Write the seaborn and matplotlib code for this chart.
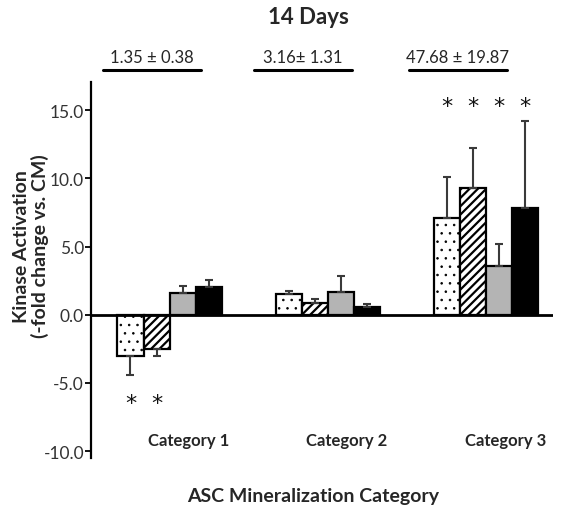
import numpy as np
import pandas as pd
import matplotlib
matplotlib.use("Agg")
import matplotlib.pyplot as plt
import seaborn as sns

# -----------------------------
# DATA
# -----------------------------
categories = ["Category 1", "Category 2", "Category 3"]
series = ["S1", "S2", "S3", "S4"]
values = {
    "S1": [-3.0, 1.55, 7.1],
    "S2": [-2.5, 0.85, 9.3],
    "S3": [1.6, 1.68, 3.6],
    "S4": [2.05, 0.57, 7.85],
}
errors = {
    "S1": [1.45, 0.22, 3.0],
    "S2": [0.55, 0.32, 2.95],
    "S3": [0.48, 1.15, 1.62],
    "S4": [0.5, 0.2, 6.35],
}
group_stats = ["1.35 \u00b1 0.38", "3.16\u00b1 1.31", "47.68 \u00b1 19.87"]
# (category index, series index) pairs marked significant
signif = [(0, 0), (0, 1), (2, 0), (2, 1), (2, 2), (2, 3)]

# -----------------------------
# STYLE
# -----------------------------
sns.set_theme(style="white")
plt.rcParams["font.family"] = ["Lato", "DejaVu Sans"]
plt.rcParams["hatch.linewidth"] = 1.6

df = pd.DataFrame(
    [(c, s, values[s][i]) for s in series for i, c in enumerate(categories)],
    columns=["category", "series", "value"],
)

fig = plt.figure(figsize=(5.63, 5.10), dpi=100)
ax = fig.add_axes([0.1616, 0.10, 0.820, 0.737])

fills = ["white", "white", "#b4b4b4", "black"]
hatches = ["..", "////", "", ""]
hatch_lw = [0.6, 1.6, 1.0, 1.0]

sns.barplot(data=df, x="category", y="value", hue="series", order=categories,
            hue_order=series, palette=fills, width=0.66, errorbar=None,
            edgecolor="black", linewidth=1.6, legend=False, ax=ax)

bars = [list(c) for c in ax.containers]
for k, cont in enumerate(bars):
    s = series[k]
    for i, bar in enumerate(cont):
        bar.set_hatch(hatches[k])
        try:
            bar.set_hatch_linewidth(hatch_lw[k])
        except AttributeError:
            bar._hatch_linewidth = hatch_lw[k]
        bar.set_edgecolor("black")
        x = bar.get_x() + bar.get_width() / 2
        v = values[s][i]
        e = errors[s][i]
        yerr = [[0], [e]] if v >= 0 else [[e], [0]]
        ax.errorbar(x, v, yerr=yerr, fmt="none", ecolor="#3a3a3a",
                    elinewidth=1.5, capsize=3, capthick=1.5, zorder=1)

# significance stars
for ci, si in signif:
    b = bars[si][ci]
    x = b.get_x() + b.get_width() / 2
    y = 15.3 if values[series[si]][ci] > 0 else -6.5
    ax.text(x, y, "*", ha="center", va="center", fontsize=16,
            family="DejaVu Sans", color="#111111")

# zero line across
ax.axhline(0, color="black", linewidth=2, zorder=5)

ax.set_ylim(-10.5, 17.06)
ax.set_xlim(-0.497, 2.42)
ax.set_yticks([-10, -5, 0, 5, 10, 15])
ax.set_yticklabels([f"{t:.1f}" for t in [-10, -5, 0, 5, 10, 15]], fontsize=12.5,
                   color="#333333")
ax.tick_params(axis="y", direction="out", length=4, width=1.3, color="black",
               left=True, pad=1)
ax.set_xticks([])
ax.set_xlabel("")
for side in ["top", "right", "bottom"]:
    ax.spines[side].set_visible(False)
ax.spines["left"].set_color("black")
ax.spines["left"].set_linewidth(1.6)

# category labels inside the axes
for i, c in enumerate(categories):
    ax.text(i + 0.12, -9.2, c, ha="center", va="center", fontsize=12,
            fontweight="bold")

ax.set_ylabel("Kinase Activation\n(-fold change vs. CM)", fontsize=14,
              fontweight="bold", linespacing=1.1, va="center")
ax.yaxis.set_label_coords(-0.13, 0.566)

fig.text(313 / 563, 1 - 497 / 510, "ASC Mineralization Category", ha="center",
         va="center", fontsize=14, fontweight="bold")
fig.text(308 / 563, 1 - 17 / 510, "14 Days", ha="center", va="center",
         fontsize=16, fontweight="bold")

# group statistics with underlines
stat_x = [152, 303, 458]
for x, t in zip(stat_x, group_stats):
    fig.text(x / 563, 1 - 58 / 510, t, ha="center", va="center", fontsize=12)
    fig.add_artist(plt.Line2D([(x - 49) / 563, (x + 49) / 563],
                              [1 - 71 / 510, 1 - 71 / 510], color="black",
                              linewidth=2.2))

fig.savefig("out.png", dpi=100)
